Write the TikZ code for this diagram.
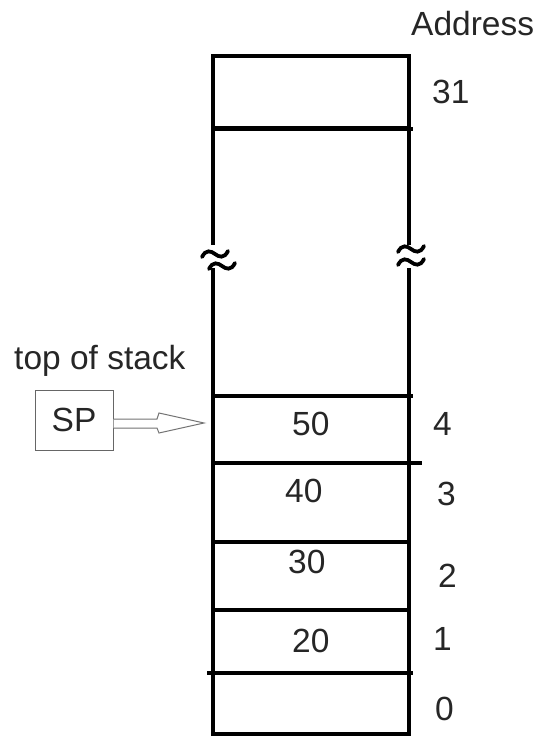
\documentclass[tikz,border=0pt]{standalone}
\usepackage{fontspec}
\setmainfont{Liberation Sans}
\begin{document}
\begin{tikzpicture}[x=1pt,y=-1pt,
  wall/.style={line width=3.3pt, black},
  lbl/.style={inner sep=0pt, anchor=base west, font=\fontsize{33.5}{40}\selectfont, text=black!85},
  brk/.style={line width=3.8pt, line cap=round, black},
  spbox/.style={draw=black!60, line width=1pt, minimum width=78pt, minimum height=60pt, inner sep=0pt,
                font=\fontsize{33.5}{40}\selectfont, text=black!85},
  hollow/.style={draw=black!55, line width=1pt, fill=white}]
\useasboundingbox (0,0) rectangle (538,736);

% stack walls, broken in the middle
\draw[wall] (213,128) -- (213,245);
\draw[wall] (213,268) -- (213,735);
\draw[wall] (409,128) -- (409,245);
\draw[wall] (409,268) -- (409,735);
% top cell (address 31)
\draw[wall] (213,56) rectangle (409,128);
\draw[wall] (211,129) -- (413,129);
% cell separators
\draw[wall] (211,396) -- (413,396);
\draw[wall] (211,463) -- (422,463);
\draw[wall] (211,542) -- (411,542);
\draw[wall] (211,610) -- (411,610);
\draw[wall] (207,673) -- (413,673);
\draw[wall] (211,734) -- (411,734);

% break marks
\foreach \cx/\cy in {215/254, 222/266, 411/249, 411/262}{
  \draw[brk] (\cx-13,\cy+3) .. controls (\cx-9,\cy-5) and (\cx-4,\cy-3) .. (\cx,\cy)
             .. controls (\cx+4,\cy+3) and (\cx+9,\cy+5) .. (\cx+13,\cy-3);
}

% labels
\node[lbl] (addr) at (411,35) {Address};
\node[lbl] (a31) at (432,103) {31};
\node[lbl] (a4) at (433,435) {4};
\node[lbl] (a3) at (437,505) {3};
\node[lbl] (a2) at (438,587) {2};
\node[lbl] (a1) at (433,650) {1};
\node[lbl] (a0) at (435,720) {0};

\node[lbl] (v50) at (292,435) {50};
\node[lbl] (v40) at (285,502) {40};
\node[lbl] (v30) at (288,573) {30};
\node[lbl] (v20) at (292,652) {20};

\node[lbl] (tos) at (14,369) {top of stack};

% stack pointer box and its hollow arrow
\node[spbox] (sp) at (74,420) {SP};
\coordinate (tip) at (204,423);
\draw[hollow] (sp.east |- 0,419) -- (157,419) -- (159,413) -- (tip) -- (159,433) -- (157,428) -- (sp.east |- 0,428);
\end{tikzpicture}
\end{document}
